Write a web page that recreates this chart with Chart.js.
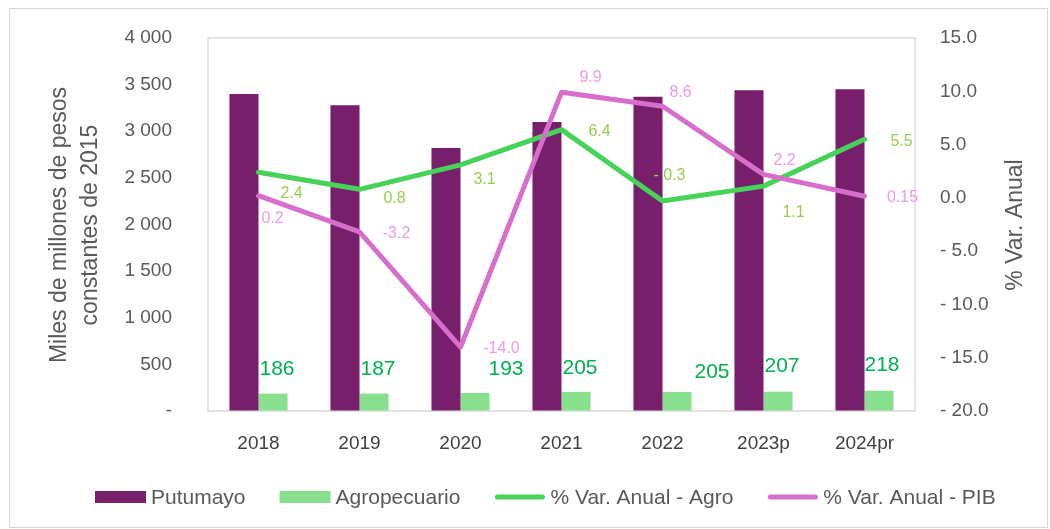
<!DOCTYPE html>
<html><head><meta charset="utf-8">
<script src="https://cdn.jsdelivr.net/npm/chart.js@4/dist/chart.umd.min.js"></script>
<style>html,body{margin:0;padding:0;background:#fff;}#wrap{width:1050px;height:529px;position:relative;}</style>
</head><body><div id="wrap"><canvas id="c" width="1050" height="529"></canvas></div>
<script>
// ---- Data ----
const categories = ['2018', '2019', '2020', '2021', '2022', '2023p', '2024pr'];
const putumayo = [3400, 3280, 2820, 3100, 3370, 3440, 3450];
const agropecuario = [186, 187, 193, 205, 205, 207, 218];
const varAgro = [2.4, 0.8, 3.1, 6.4, -0.3, 1.1, 5.5];
const varPib = [0.2, -3.2, -14.0, 9.9, 8.6, 2.2, 0.15];
const agroBarLabels = ['186', '187', '193', '205', '205', '207', '218'];
const varAgroLabels = ['2.4', '0.8', '3.1', '6.4', '- 0.3', '1.1', '5.5'];
const varPibLabels = ['0.2', '-3.2', '-14.0', '9.9', '8.6', '2.2', '0.15'];
const leftAxisTitle = ['Miles de millones de pesos', 'constantes de 2015'];
const rightAxisTitle = '% Var. Anual';

// ---- Label placement (style) ----
const agroBarDx = [4, 4, 31, 4, 35, 4, 3];
const agroBarDy = [-24, -24, -24, -24, -20, -25, -25];
const varAgroDx = [33, 35, 24, 38, 7, 30, 37];
const varAgroDy = [21, 9, 15, 2, -25, 26, 2];
const varPibDx = [14, 37, 41, 29, 18, 21, 38];
const varPibDy = [23, 2, 2, -15, -14, -14, 1];

const FONT = '"Liberation Sans", Arial, sans-serif';
const GREY = '#595959';

const fmtLeft = v => v === 0 ? '-' : String(v).replace(/\B(?=(\d{3})+(?!\d))/g, ' ');
const fmtRight = v => v < 0 ? '- ' + Math.abs(v).toFixed(1) : v.toFixed(1);

const framePlugin = {
  id: 'frame',
  beforeDraw(chart) {
    const ctx = chart.ctx, a = chart.chartArea;
    ctx.save();
    ctx.fillStyle = '#fff';
    ctx.fillRect(0, 0, chart.width, chart.height);
    ctx.strokeStyle = '#D9D9D9';
    ctx.lineWidth = 1;
    ctx.strokeRect(9.5, 8.5, chart.width - 12, chart.height - 10);
    ctx.lineWidth = 1.5;
    ctx.strokeRect(a.left, a.top, a.right - a.left, a.bottom - a.top);
    ctx.restore();
  },
  afterDraw(chart) {
    const ctx = chart.ctx;
    ctx.save();
    // axis titles
    ctx.fillStyle = GREY;
    ctx.font = '23px ' + FONT;
    ctx.textAlign = 'center';
    ctx.textBaseline = 'middle';
    ctx.save(); ctx.translate(60, 225); ctx.rotate(-Math.PI / 2); ctx.fillText(leftAxisTitle[0], 0, 0); ctx.restore();
    ctx.save(); ctx.translate(91, 225); ctx.rotate(-Math.PI / 2); ctx.fillText(leftAxisTitle[1], 0, 0); ctx.restore();
    ctx.save(); ctx.translate(1016, 225); ctx.rotate(-Math.PI / 2); ctx.fillText(rightAxisTitle, 0, 0); ctx.restore();

    // data labels
    chart.data.datasets.forEach((ds, i) => {
      if (!ds.labelCfg) return;
      const meta = chart.getDatasetMeta(i);
      const c = ds.labelCfg;
      ctx.font = c.font;
      ctx.fillStyle = c.color;
      meta.data.forEach((el, j) => {
        ctx.fillText(c.texts[j], el.x + c.dx[j], el.y + c.dy[j]);
      });
    });

    // legend
    ctx.font = '21px ' + FONT;
    ctx.textAlign = 'left';
    let x = 95; const y = 497;
    chart.data.datasets.forEach(ds => {
      if (ds.type === 'bar') {
        ctx.fillStyle = ds.backgroundColor;
        ctx.fillRect(x, y - 6, 51, 12);
      } else {
        ctx.strokeStyle = ds.borderColor;
        ctx.lineWidth = 5;
        ctx.lineCap = 'round';
        ctx.beginPath(); ctx.moveTo(x + 3, y); ctx.lineTo(x + 48, y); ctx.stroke();
      }
      x += 56;
      ctx.fillStyle = GREY;
      ctx.fillText(ds.label, x, y + 1);
      x += ctx.measureText(ds.label).width + 34;
    });
    ctx.restore();
  }
};

const hiddenGrid = len => ({ display: true, drawOnChartArea: false, drawTicks: true, tickLength: len, color: 'rgba(0,0,0,0)' });

new Chart(document.getElementById('c'), {
  data: {
    labels: categories,
    datasets: [
      { type: 'bar', label: 'Putumayo', data: putumayo, yAxisID: 'y', backgroundColor: '#771F6B', order: 2,
        barPercentage: 1, categoryPercentage: 0.575 },
      { type: 'bar', label: 'Agropecuario', data: agropecuario, yAxisID: 'y', backgroundColor: '#88E08F', order: 2,
        barPercentage: 1, categoryPercentage: 0.575,
        labelCfg: { texts: agroBarLabels, dx: agroBarDx, dy: agroBarDy, color: '#00B050', font: '21px ' + FONT } },
      { type: 'line', label: '% Var. Anual - Agro', data: varAgro, yAxisID: 'y1', borderColor: '#47D35A', backgroundColor: '#47D35A',
        borderWidth: 5, pointRadius: 0, tension: 0, borderCapStyle: 'round', borderJoinStyle: 'round', order: 1,
        labelCfg: { texts: varAgroLabels, dx: varAgroDx, dy: varAgroDy, color: '#92D050', font: '16px ' + FONT } },
      { type: 'line', label: '% Var. Anual - PIB', data: varPib, yAxisID: 'y1', borderColor: '#D86ECC', backgroundColor: '#D86ECC',
        borderWidth: 5, pointRadius: 0, tension: 0, borderCapStyle: 'round', borderJoinStyle: 'round', order: 0,
        labelCfg: { texts: varPibLabels, dx: varPibDx, dy: varPibDy, color: '#EE9BE4', font: '16px ' + FONT } }
    ]
  },
  options: {
    responsive: false,
    animation: false,
    devicePixelRatio: 1,
    layout: { padding: { top: 38, bottom: 0, left: 0, right: 0 } },
    plugins: { legend: { display: false }, tooltip: { enabled: false } },
    scales: {
      x: {
        offset: true,
        grid: { display: false, drawTicks: false },
        border: { display: false },
        ticks: { color: '#404040', font: { family: FONT, size: 19 }, padding: 21, maxRotation: 0 },
        afterFit: s => { s.height = 118; }
      },
      y: {
        position: 'left', min: 0, max: 4000,
        grid: hiddenGrid(36),
        border: { display: false },
        ticks: { stepSize: 500, color: GREY, font: { family: FONT, size: 19 }, padding: 0, callback: v => fmtLeft(v) },
        afterFit: s => { s.width = 208; }
      },
      y1: {
        position: 'right', min: -20, max: 15,
        grid: hiddenGrid(25),
        border: { display: false },
        ticks: { stepSize: 5, color: GREY, font: { family: FONT, size: 19 }, padding: 0, callback: v => fmtRight(v) },
        afterFit: s => { s.width = 135; }
      }
    }
  },
  plugins: [framePlugin]
});
</script>
</body></html>
